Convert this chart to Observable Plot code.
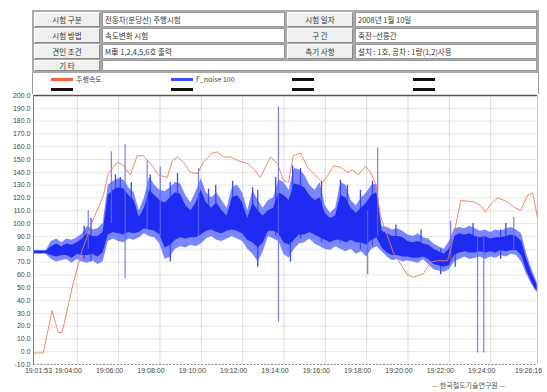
<!DOCTYPE html>
<html>
<head>
<meta charset="utf-8">
<script src="https://cdn.jsdelivr.net/npm/d3@7"></script>
<script src="https://cdn.jsdelivr.net/npm/@observablehq/plot@0.6"></script>
<style>
  body { margin:0; width:547px; height:392px; background:#fff; position:relative; overflow:hidden;
         font-family:"Noto Sans CJK KR","Noto Sans",sans-serif; }
  #hdr { position:absolute; left:32px; top:10px; width:507px; height:63px; background:#a9a9a9;
         display:grid; grid-template-columns:66px 183px 66px 182px; grid-template-rows:15px 15px 15px 11px;
         gap:1px 2px; padding:2px; box-sizing:border-box; }
  .lab { background:#f0f0f0; border-top:1px solid #fff; border-left:1px solid #fff; border-bottom:1px solid #8a8a8a;
         border-right:1px solid #8a8a8a; font-size:7.5px; color:#333; text-align:center; line-height:13px; box-sizing:border-box; }
  .val { background:#fff; font-size:7.5px; color:#333; line-height:13px; padding-left:2px; box-sizing:border-box;
         border:1px solid #9a9a9a; white-space:nowrap; overflow:hidden; }
  #leg { position:absolute; left:32px; top:73px; width:507px; height:21px; background:#fff; border-left:1px solid #999;
         border-right:1px solid #999; box-sizing:border-box; }
  .sw { position:absolute; width:22px; height:3px; }
  .lt { position:absolute; font-size:7px; color:#444; line-height:8px; }
  #plot { position:absolute; left:0; top:94px; }
  #cap { position:absolute; left:432px; top:380px; font-size:7px; color:#555; white-space:nowrap; }
</style>
</head>
<body>
<div id="hdr"></div>
<div id="leg"></div>
<div id="plot"></div>
<div id="cap"></div>
<script>
// ---------- header texts ----------
const headerLabels = ["시험 구분", "시험 일자", "시험 방법", "구    간", "견인 조건", "측기 사항", "기    타"];
const headerValues = ["전동차(분당선) 주행시험", "2008년 1월 10일", "속도변화 시험", "죽전~선릉간",
                      "M車 1,2,4,5,6호 출력", "설치 : 1호, 공차 : 1량(1,2)사용", ""];
const legendLabels = ["주행속도", "F_noise 100"];
const captionText = "— 한국철도기술연구원 —";

// ---------- axis ticks ----------
const yTicks = [200,190,180,170,160,150,140,130,120,110,100,90,80,70,60,50,40,30,20,10,0,-10];
const xStart = "19:01:53";
const xEnd = "19:26:16";
const xGridTimes = ["19:04:00","19:06:00","19:08:00","19:10:00","19:12:00","19:14:00","19:16:00","19:18:00","19:20:00","19:22:00","19:24:00"];
const xTickLabels = ["19:04:00","19:06:00","19:08:00","19:10:00","19:12:00","19:14:00","19:16:00","19:18:00","19:20:00","19:22:00","19:24:00","19:26:16"];

// ---------- red series: running speed ----------
const redTime = ["19:01:53","19:02:21","19:02:47","19:03:05","19:03:16","19:03:48","19:04:14","19:04:46","19:05:16","19:05:30",
  "19:05:56","19:06:11","19:06:34","19:06:54","19:07:12","19:07:38","19:07:55","19:08:21","19:08:36","19:08:51",
  "19:09:08","19:09:28","19:09:49","19:10:06","19:10:32","19:10:47","19:11:04","19:11:25","19:11:48","19:12:14",
  "19:12:31","19:12:52","19:13:06","19:13:21","19:13:41","19:13:58","19:14:13","19:14:27","19:14:48","19:15:08",
  "19:15:26","19:15:52","19:16:06","19:16:24","19:16:44","19:17:04","19:17:19","19:17:36","19:17:57","19:18:11",
  "19:18:26","19:18:40","19:19:18","19:19:59","19:20:16","19:20:45","19:21:06","19:21:26","19:21:55","19:22:10",
  "19:22:33","19:23:11","19:23:31","19:23:45","19:24:00","19:24:20","19:24:49","19:25:07","19:25:27","19:25:47",
  "19:26:02","19:26:16"];
const redSpeed = [-1,-1,32,15,15,53,79,103,122,139,
  148,146,138,153,153,145,138,136,149,152,
  148,140,139,148,155,156,152,152,149,147,
  143,136,144,152,147,134,132,153,155,144,
  139,132,137,145,144,140,142,138,145,140,
  131,106,77,60,58,61,70,71,71,87,
  118,117,114,109,115,120,117,113,110,122,
  124,105];

// ---------- blue series: noise envelope (outer / dense core) ----------
const blueTime = ["19:01:53","19:02:15",
  "19:02:30","19:02:45","19:03:00","19:03:15","19:03:30","19:03:45","19:04:00","19:04:15","19:04:30","19:04:45","19:05:00","19:05:15",
  "19:05:30","19:05:45","19:06:00","19:06:15","19:06:30","19:06:45","19:07:00","19:07:15","19:07:30","19:07:45","19:08:00","19:08:15",
  "19:08:30","19:08:45","19:09:00","19:09:15","19:09:30","19:09:45","19:10:00","19:10:15","19:10:30","19:10:45","19:11:00","19:11:15",
  "19:11:30","19:11:45","19:12:00","19:12:15","19:12:30","19:12:45","19:13:00","19:13:15","19:13:30","19:13:45","19:14:00","19:14:15",
  "19:14:30","19:14:45","19:15:00","19:15:15","19:15:30","19:15:45","19:16:00","19:16:15","19:16:30","19:16:45","19:17:00","19:17:15",
  "19:17:30","19:17:45","19:18:00","19:18:15","19:18:30","19:18:45","19:19:00","19:19:15","19:19:30","19:19:45","19:20:00","19:20:15",
  "19:20:30","19:20:45","19:21:00","19:21:15","19:21:30","19:21:45","19:22:00","19:22:15","19:22:30","19:22:45","19:23:00","19:23:15",
  "19:23:30","19:23:45","19:24:00","19:24:15","19:24:30","19:24:45","19:25:00","19:25:15","19:25:30","19:25:45","19:26:00","19:26:15"];
const blueLo = [76,76,
  76,72,70,71,72,69,72,70,69,71,68,70,
  86,88,86,85,88,87,89,92,90,89,84,72,
  74,80,82,81,83,82,84,88,90,87,86,88,
  90,88,86,80,76,70,78,90,88,86,76,73,
  80,84,85,88,84,82,80,79,82,80,78,80,
  76,78,74,80,82,78,74,71,72,70,71,70,
  69,72,68,64,63,62,64,70,72,74,72,73,
  74,72,74,73,75,74,76,75,70,60,52,46];
const blueHi = [79,79,
  79,86,88,85,88,87,89,92,98,95,96,100,
  130,133,135,134,128,124,110,120,136,130,126,125,
  128,132,131,122,116,125,135,124,120,124,118,112,
  128,130,124,110,126,118,112,118,120,134,132,126,
  143,142,138,130,126,132,114,108,112,132,130,118,
  114,120,124,130,131,98,97,95,96,94,91,90,
  92,89,88,84,82,80,86,96,97,96,98,96,
  94,95,93,95,94,96,97,95,92,76,64,54];
const blueCoreLo = [76.6,76.6,
  76.6,75,74,75,75,73,76,75,75,76,74,77,
  91,93,92,91,93,92,93,96,95,94,91,81,
  83,87,89,88,89,89,91,94,95,93,92,94,
  95,94,92,87,85,81,85,94,94,92,85,83,
  87,91,91,93,91,89,87,85,87,87,85,87,
  85,85,83,87,89,81,77,75,75,74,74,73,
  73,74,72,68,67,66,67,75,77,78,77,77,
  78,77,78,77,79,78,79,79,75,63,54,47];
const blueCoreHi = [78.4,78.4,
  78.5,82,84,82,84,83,85,88,92,90,90,93,
  122,126,128,127,122,118,105,112,126,122,118,116,
  120,124,123,114,110,116,126,116,112,116,110,106,
  120,122,116,104,116,110,106,110,112,124,122,118,
  131,130,128,122,118,120,108,104,106,122,120,112,
  108,112,116,122,124,94,92,90,90,89,86,85,
  86,84,83,80,78,76,80,90,92,91,92,90,
  89,90,88,89,89,90,91,90,86,72,61,52];

// ---------- blue spikes (isolated excursions) ----------
const spikeTime = ["19:04:32","19:05:39","19:06:19","19:07:23","19:08:01","19:09:52","19:13:44","19:18:03","19:18:32","19:22:04","19:23:22","19:23:40","19:25:07"];
const spikeLo   = [80, 100, 57, 95, 90, 90, 23, 60, 90, 70, -1, -1, 80];
const spikeHi   = [110, 156, 162, 149, 144, 143, 191, 110, 159, 102, 90, 90, 105];

// ---------- blue streaks (smaller peaks inside the noise) ----------
const streakTime = ["19:04:20","19:04:40","19:05:51","19:06:05","19:06:37","19:07:32","19:08:30","19:08:51","19:10:21","19:10:42",
  "19:11:31","19:12:29","19:12:44","19:13:36","19:14:25","19:14:48","19:15:49","19:16:44","19:17:04","19:17:42","19:18:17",
  "19:14:19","19:19:25","19:20:38","19:21:35","19:22:17","19:23:09","19:24:29","19:24:44"];
const streakLo = [72,70,95,95,92,95,70,90,95,95, 95,88,66,90,85,88,85,85,85,80,82, 70,80,80,60,66,80,72,80];
const streakHi = [98,104,138,136,132,138,132,139,127,130, 133,128,126,136,145,143,133,134,130,126,133, 95,99,95,80,90,100,95,100];

// ---------- build page ----------
const parseT = s => { const [h,m,sec] = s.split(":").map(Number); return new Date(Date.UTC(2008,0,10,h,m,sec)); };

const hdr = document.getElementById("hdr");
for (let r = 0; r < 3; r++) {
  for (let c = 0; c < 2; c++) {
    const i = r*2 + c;
    const l = document.createElement("div"); l.className = "lab"; l.textContent = headerLabels[i]; hdr.appendChild(l);
    const v = document.createElement("div"); v.className = "val"; v.textContent = headerValues[i]; hdr.appendChild(v);
  }
}
{
  const l = document.createElement("div"); l.className = "lab"; l.style.lineHeight = "9px"; l.textContent = headerLabels[6]; hdr.appendChild(l);
  const v = document.createElement("div"); v.className = "val"; v.style.gridColumn = "2 / 5"; v.textContent = headerValues[6]; hdr.appendChild(v);
}

const leg = document.getElementById("leg");
const sw = (x, y, c) => { const d = document.createElement("div"); d.className = "sw"; d.style.left = x + "px"; d.style.top = y + "px"; d.style.background = c; leg.appendChild(d); };
const lt = (x, y, t) => { const d = document.createElement("div"); d.className = "lt"; d.style.left = x + "px"; d.style.top = y + "px"; d.textContent = t; leg.appendChild(d); };
sw(18, 5, "#ff5a3c"); lt(43, 2, legendLabels[0]);
sw(138, 5, "#3a4dff"); lt(163, 2, legendLabels[1]);
sw(259, 5, "#111"); sw(380, 5, "#111");
sw(18, 15, "#111"); sw(138, 15, "#111"); sw(259, 15, "#111"); sw(380, 15, "#111");

document.getElementById("cap").textContent = captionText;

const blue = blueTime.map((t, i) => ({t: parseT(t), lo: blueLo[i], hi: blueHi[i], clo: blueCoreLo[i], chi: blueCoreHi[i]}));
const red = redTime.map((t, i) => ({t: parseT(t), v: redSpeed[i]}));
const spikes = spikeTime.map((t, i) => ({t: parseT(t), lo: spikeLo[i], hi: spikeHi[i]}));
const streaks = streakTime.map((t, i) => ({t: parseT(t), lo: streakLo[i], hi: streakHi[i]}));
const t0 = parseT(xStart), t1 = parseT(xEnd);
const numFont = "Liberation Sans, Arial, sans-serif";

const chart = Plot.plot({
  width: 547, height: 298,
  marginTop: 1, marginBottom: 28, marginLeft: 33, marginRight: 10,
  x: {type: "utc", domain: [t0, t1], axis: null},
  y: {domain: [-10, 200], axis: null},
  style: {background: "transparent", overflow: "visible"},
  marks: [
    Plot.ruleY(yTicks.filter(d => d > -10 && d < 200), {stroke: "#e0e0e0", strokeWidth: 0.8}),
    Plot.ruleX(xGridTimes.map(parseT), {stroke: "#d4d4d4", strokeWidth: 0.8}),
    Plot.ruleX([t1], {stroke: "#c8c8c8"}),
    Plot.areaY(blue, {x: "t", y1: "lo", y2: "hi", fill: "#4254ff", fillOpacity: 0.7}),
    Plot.ruleX(streaks, {x: "t", y1: "lo", y2: "hi", stroke: "#3546ff", strokeWidth: 1.3}),
    Plot.areaY(blue, {x: "t", y1: "clo", y2: "chi", fill: "#1e2cf2"}),
    Plot.ruleX(spikes, {x: "t", y1: "lo", y2: "hi", stroke: "#5c68f5", strokeWidth: 1.2, strokeOpacity: 0.85}),
    Plot.lineY(red, {x: "t", y: "v", stroke: "#ef7a60", strokeWidth: 0.9}),
    Plot.ruleY([200], {stroke: "#555", strokeWidth: 1.6}),
    Plot.ruleY([-10], {stroke: "#888", strokeDasharray: "2,1.5"}),
    Plot.ruleX([t0], {stroke: "#777", strokeWidth: 1}),
    Plot.text(yTicks, {y: d => d, text: d => d.toFixed(1), frameAnchor: "left", textAnchor: "end", dx: -3,
      fontSize: 7, fill: "#444", fontFamily: numFont}),
    Plot.text([xStart], {x: d => parseT(d), text: d => d, frameAnchor: "bottom", dy: 8, dx: 5,
      fontSize: 7, fill: "#444", fontFamily: numFont}),
    Plot.text(xTickLabels, {x: d => parseT(d), text: d => d, frameAnchor: "bottom", dy: 8, dx: -9,
      fontSize: 7, fill: "#444", fontFamily: numFont})
  ]
});
document.getElementById("plot").appendChild(chart);
</script>
</body>
</html>
